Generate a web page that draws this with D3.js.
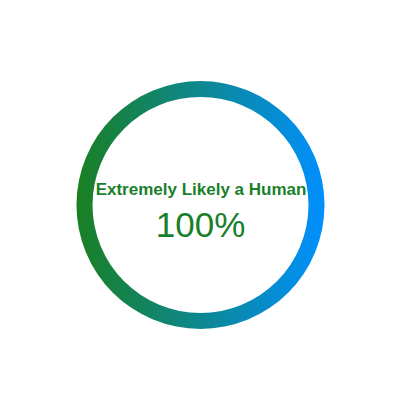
<!DOCTYPE html>
<html><head><meta charset="utf-8">
<script src="https://cdn.jsdelivr.net/npm/d3@7"></script>
<style>body{margin:0;background:#fff}</style>
</head><body>
<div id="chart"></div>
<script>
const labels = ["Extremely Likely a Human"];
const values = [100];
const gradientStops = ["#1a7f22", "#0090ff"];

const W = 400, H = 400, cx = 200.5, cy = 205, rOuter = 124, rInner = 108;
const svg = d3.select("#chart").append("svg").attr("width", W).attr("height", H);
const defs = svg.append("defs");
const grad = defs.append("linearGradient").attr("id", "g").attr("gradientUnits", "userSpaceOnUse")
  .attr("x1", -rOuter).attr("x2", rOuter).attr("y1", 0).attr("y2", 0);
grad.selectAll("stop").data(gradientStops).join("stop")
  .attr("offset", (d, i) => i / (gradientStops.length - 1)).attr("stop-color", d => d);

const scale = d3.scaleLinear().domain([0, 100]).range([0, 2 * Math.PI]);
const arc = d3.arc().innerRadius(rInner).outerRadius(rOuter).startAngle(0);
const g = svg.append("g").attr("transform", `translate(${cx},${cy})`);
g.selectAll("path").data(values).join("path")
  .attr("d", d => arc({endAngle: scale(d)})).attr("fill", "url(#g)");

g.append("text").attr("x", 0.5).attr("y", -10).attr("text-anchor", "middle")
  .attr("font-family", "Liberation Sans, Arial, sans-serif").attr("font-weight", "bold")
  .attr("font-size", 17).attr("fill", "#1a7f2a").text(labels[0]);
g.append("text").attr("x", 0).attr("y", 31.5).attr("text-anchor", "middle")
  .attr("font-family", "Liberation Sans, Arial, sans-serif")
  .attr("font-size", 35).attr("fill", "#1a7f2a").text(values[0] + "%");
</script>
</body></html>
